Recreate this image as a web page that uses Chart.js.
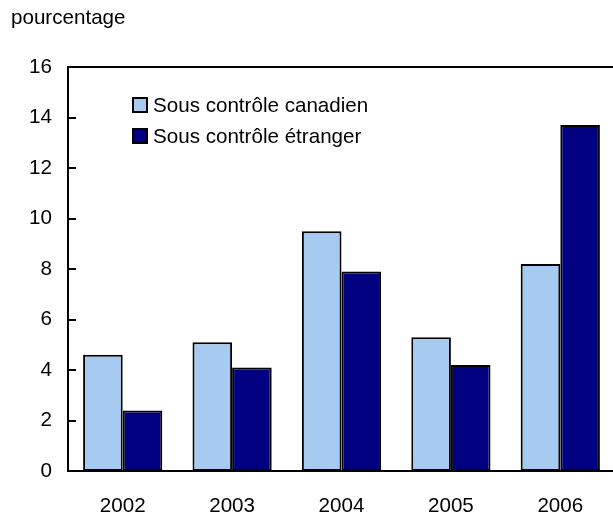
<!DOCTYPE html>
<html lang="fr">
<head>
  <meta charset="UTF-8">
  <title>Sous contrôle canadien et étranger</title>
  <script src="https://cdn.jsdelivr.net/npm/chart.js"></script>
  <style>
    body { margin: 0; background: #fff; overflow: hidden; }
    canvas { display: block; }
  </style>
</head>
<body>
<canvas id="chart" width="625" height="514"></canvas>
<script>
const years = ["2002", "2003", "2004", "2005", "2006"];
const canadien = [4.6, 5.1, 9.5, 5.3, 8.2];
const etranger = [2.4, 4.1, 7.9, 4.2, 13.7];
const seriesNames = ["Sous contrôle canadien", "Sous contrôle étranger"];
const yTicks = [0, 2, 4, 6, 8, 10, 12, 14, 16];

const FONT = "Liberation Sans, Arial, sans-serif";
const SIZE = 20.6;

// unit label, top border, inward tick marks and the legend box
const decor = {
  id: "decor",
  afterDraw(chart) {
    const ctx = chart.ctx;
    const area = chart.chartArea;
    const y = chart.scales.y;
    ctx.save();
    ctx.fillStyle = "#000";
    ctx.font = SIZE + "px " + FONT;
    ctx.textBaseline = "alphabetic";
    ctx.textAlign = "left";
    ctx.fillText("pourcentage", 11, 24);

    ctx.strokeStyle = "#000";
    ctx.lineWidth = 2;
    ctx.beginPath();
    ctx.moveTo(area.left - 1, area.top);
    ctx.lineTo(area.right, area.top);
    ctx.stroke();

    yTicks.forEach(v => {
      const py = Math.round(y.getPixelForValue(v));
      ctx.beginPath();
      ctx.moveTo(area.left, py);
      ctx.lineTo(area.left + 8, py);
      ctx.stroke();
    });

    ctx.textBaseline = "middle";
    chart.data.datasets.forEach((ds, i) => {
      const ly = 105 + i * 31;
      ctx.fillStyle = ds.backgroundColor;
      ctx.fillRect(133, ly - 7, 14, 14);
      ctx.lineWidth = 2;
      ctx.strokeStyle = "#000";
      ctx.strokeRect(133, ly - 7, 14, 14);
      ctx.fillStyle = "#000";
      ctx.fillText(ds.label, 153, ly + 1);
    });
    ctx.restore();
  }
};

new Chart(document.getElementById("chart"), {
  type: "bar",
  data: {
    labels: years,
    datasets: [
      { label: seriesNames[0], data: canadien, backgroundColor: "#A6CAF0",
        borderColor: "#000", borderWidth: 2, borderSkipped: false },
      { label: seriesNames[1], data: etranger, backgroundColor: "#000080",
        borderColor: "#000", borderWidth: 2, borderSkipped: false }
    ]
  },
  options: {
    responsive: false,
    animation: false,
    layout: { padding: { top: 67, right: 10, left: 0, bottom: 0 } },
    datasets: { bar: { categoryPercentage: 0.724, barPercentage: 1 } },
    plugins: { legend: { display: false }, tooltip: { enabled: false } },
    scales: {
      x: {
        grid: { display: false },
        border: { color: "#000", width: 2 },
        ticks: { color: "#000", font: { family: FONT, size: SIZE }, padding: 15 },
        afterFit(scale) { scale.height = 43; }
      },
      y: {
        min: 0,
        max: 16,
        grid: { display: false },
        border: { color: "#000", width: 2 },
        ticks: {
          stepSize: 2,
          color: "#000",
          font: { family: FONT, size: SIZE },
          padding: 8
        },
        afterFit(scale) { scale.width = 68; }
      }
    }
  },
  plugins: [decor]
});
</script>
</body>
</html>
